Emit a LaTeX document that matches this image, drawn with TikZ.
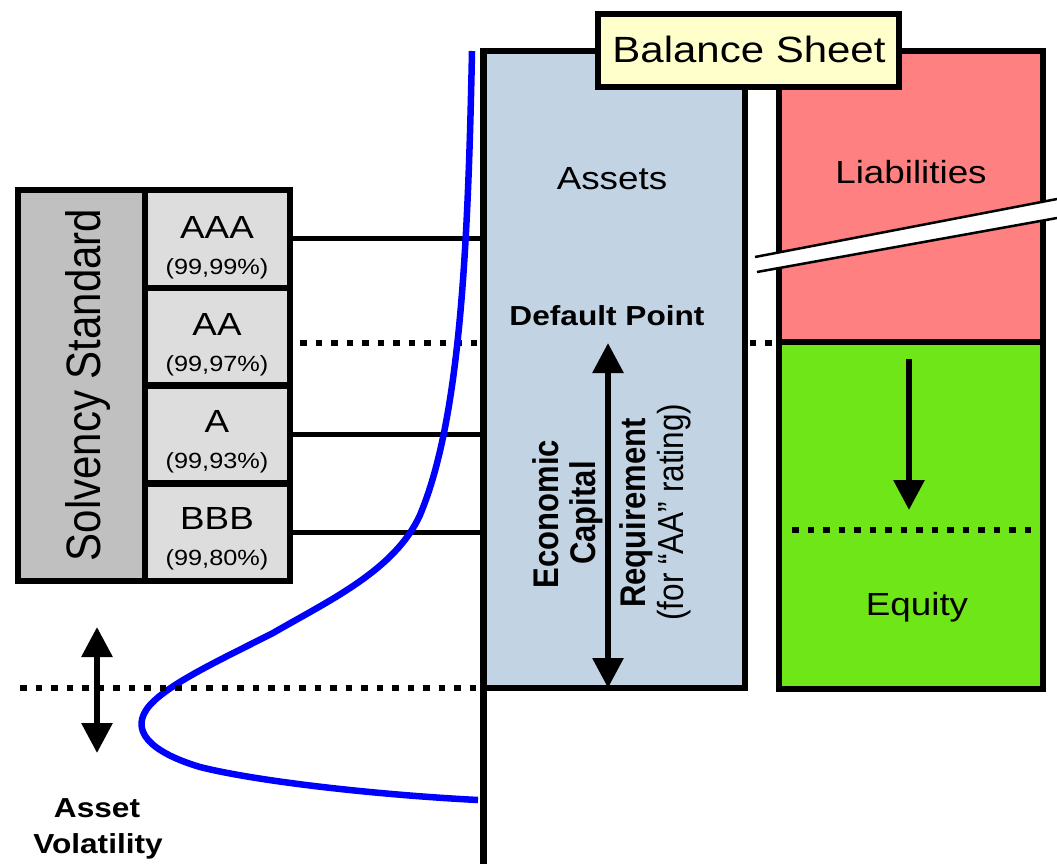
\documentclass[tikz,border=0pt]{standalone}
\usepackage{fontspec}
\setmainfont{Liberation Sans}
\usetikzlibrary{arrows.meta}
\definecolor{assetc}{HTML}{C2D3E3}
\definecolor{liabc}{HTML}{FF8080}
\definecolor{eqc}{HTML}{6FE617}
\definecolor{bsc}{HTML}{FFFFCC}
\definecolor{darkg}{HTML}{C0C0C0}
\definecolor{lightg}{HTML}{DDDDDD}
\definecolor{curveblue}{HTML}{0000FF}
\newcommand{\hwide}[1]{\scalebox{1.15}[1]{#1}}
\newcommand{\vwide}[1]{\scalebox{1}[1.15]{#1}}
\newcommand{\fs}[1]{\fontsize{#1}{#1}\selectfont}
\begin{document}
\begin{tikzpicture}[x=1pt,y=-1pt,
  box/.style={draw=black, line width=6.5pt, rectangle, anchor=north west, inner sep=0pt, outer sep=0pt},
  rating/.style={box, fill=lightg, minimum width=145, minimum height=97.75},
  conn/.style={line width=5pt},
  dots/.style={line width=6.5pt, dash pattern=on 6.5pt off 9pt},
  dblarr/.style={line width=6pt, {Triangle[width=30pt,length=30pt]}-{Triangle[width=30pt,length=30pt]}},
  downarr/.style={line width=6pt, -{Triangle[width=30pt,length=30pt]}},
  txt/.style={inner sep=0pt, anchor=base},
  big/.style={txt, font=\fs{32}},
  pct/.style={txt, font=\fs{22}},
  bold/.style={txt, font=\bfseries\fs{27.5}},
  rot/.style={inner sep=0pt, anchor=base, rotate=90},
  curve/.style={draw=curveblue, line width=6.5pt, line join=round}
]
\useasboundingbox (0,0) rectangle (1057,864);

% dotted default-point line (behind boxes)
\coordinate (aaL) at (300,343);
\coordinate (aaR) at (779,343);
\draw[dots] (aaL) -- (aaR);

% balance sheet boxes
\node[box, fill=assetc, minimum width=262, minimum height=637] (assets) at (483,51) {};
\node[box, fill=liabc, minimum width=264, minimum height=291] (liab) at (779,51) {};
\node[box, fill=eqc, minimum width=264, minimum height=347] (equity) at (779,342) {};

% axis line
\coordinate (axisend) at (483,864);
\draw[line width=7pt] (assets.north west) -- (axisend);

% solvency table
\node[box, fill=darkg, minimum width=127, minimum height=391] (solv) at (18,190) {};
\node[rating] (r1) at (145,190) {};
\node[rating] (r2) at (145,287.75) {};
\node[rating] (r3) at (145,385.5) {};
\node[rating] (r4) at (145,483.25) {};
\node[rot, font=\fs{42}] (solvt) at (100,385) {\vwide{Solvency Standard}};

\node[big] (t1) at (217,238) {\hwide{AAA}};
\node[pct] (p1) at (217,274) {\hwide{(99,99\%)}};
\node[big] (t2) at (217,335) {\hwide{AA}};
\node[pct] (p2) at (217,371) {\hwide{(99,97\%)}};
\node[big] (t3) at (217,432) {\hwide{A}};
\node[pct] (p3) at (217,468) {\hwide{(99,93\%)}};
\node[big] (t4) at (217,529) {\hwide{BBB}};
\node[pct] (p4) at (217,565) {\hwide{(99,80\%)}};

% connectors from ratings
\draw[conn] (r1.east) -- (r1.east -| assets.west);
\draw[conn] (r3.east) -- (r3.east -| assets.west);
\draw[conn] (r4.east) -- (r4.east -| assets.west);

% asset value distribution
\draw[curve] (472,51) .. controls (468,250) and (460,420) .. (420,515)
  .. controls (395,570) and (330,600) .. (273,633)
  .. controls (220,660) and (170,683) .. (150,705)
  .. controls (128,730) and (150,752) .. (200,767)
  .. controls (260,782) and (380,795) .. (478,800);

% dotted default line (left)
\coordinate (volL) at (20,688);
\draw[dots] (volL) -- (assets.south west);

% asset volatility arrow
\coordinate (vu) at (97,627);
\coordinate (vd) at (97,753);
\draw[dblarr] (vu) -- (vd);
\node[bold] (av1) at (97,817) {\hwide{Asset}};
\node[bold] (av2) at (98,853) {\hwide{Volatility}};

% break band on liabilities
\fill[white] (755,257) -- (1057,199) -- (1057,218) -- (757,272) -- cycle;
\draw[line width=2.5pt] (755,257) -- (1057,199);
\draw[line width=2.5pt] (757,272) -- (1057,218);

% balance sheet title
\node[box, fill=bsc, line width=5.5pt, minimum width=301, minimum height=73] (bs) at (598,14) {};
\node[txt, font=\fs{36.5}] (bst) at (749,63) {\hwide{Balance Sheet}};

% labels
\node[big] (assetst) at (612,189) {\hwide{Assets}};
\node[big] (liabt) at (911,183) {\hwide{Liabilities}};
\node[big] (eqt) at (917,615) {\hwide{Equity}};
\node[bold] (dpt) at (607,325) {\hwide{Default Point}};

% economic capital arrow
\coordinate (ecu) at (608,343);
\coordinate (ecd) at (608,688);
\draw[dblarr] (ecu) -- (ecd);
\node[rot, font=\bfseries\fs{31}] (ec1) at (558,514) {\vwide{Economic}};
\node[rot, font=\bfseries\fs{31}] (ec2) at (595,513) {\vwide{Capital}};
\node[rot, font=\bfseries\fs{31}] (ec3) at (645,513) {\vwide{Requirement}};
\node[rot, font=\fs{31.5}] (ec4) at (683,512) {\vwide{(for “AA” rating)}};

% equity arrow and new level
\coordinate (eqa1) at (909,359);
\coordinate (eqa2) at (909,510);
\draw[downarr] (eqa1) -- (eqa2);
\coordinate (eqdL) at (792,530);
\coordinate (eqdR) at (1040,530);
\draw[dots] (eqdL) -- (eqdR);
\end{tikzpicture}
\end{document}
